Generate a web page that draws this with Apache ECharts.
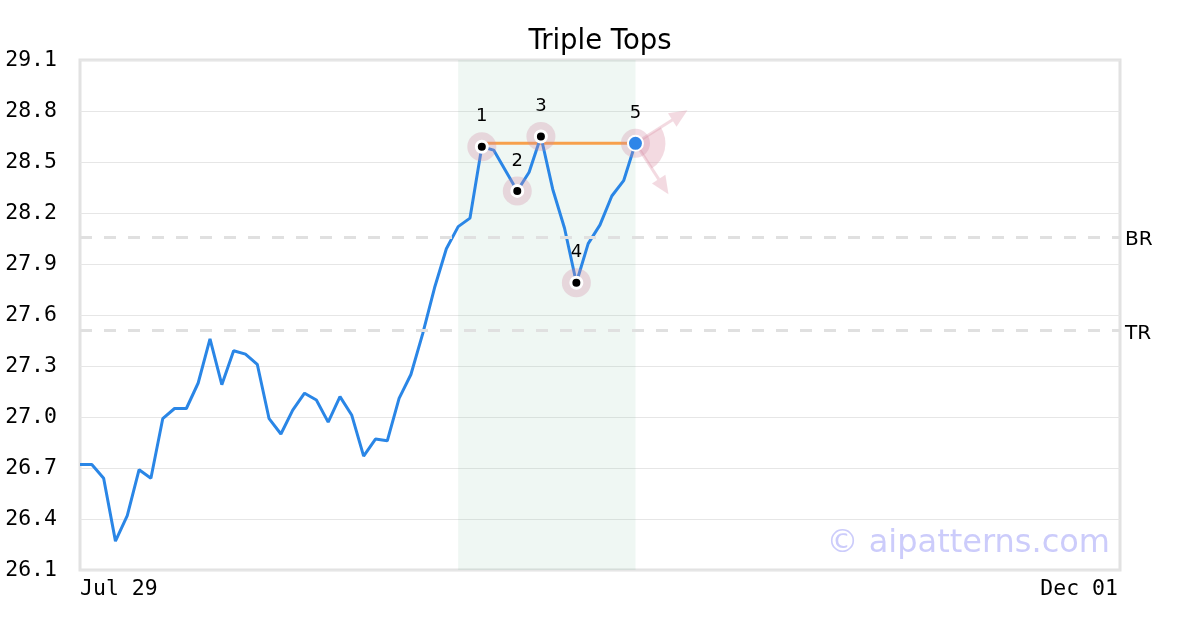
<!DOCTYPE html>
<html>
<head>
<meta charset="utf-8">
<script src="https://cdn.jsdelivr.net/npm/echarts@6/dist/echarts.min.js"></script>
<style>html,body{margin:0;padding:0;background:#fff;}#c{width:1200px;height:630px;}</style>
</head>
<body>
<div id="c"></div>
<script>
// ---- data ----
const categoryCount = 89;
const xTickLabels = ['Jul 29', 'Dec 01'];
const yTicks = [26.1, 26.4, 26.7, 27.0, 27.3, 27.6, 27.9, 28.2, 28.5, 28.8, 29.1];
const prices = [26.72, 26.72, 26.64, 26.27, 26.42, 26.69, 26.64, 26.99, 27.05, 27.05,
  27.20, 27.46, 27.19, 27.39, 27.37, 27.31, 26.99, 26.90, 27.04, 27.14,
  27.10, 26.97, 27.12, 27.01, 26.77, 26.87, 26.86, 27.11, 27.25, 27.49,
  27.76, 27.99, 28.12, 28.17, 28.59, 28.57, 28.45, 28.33, 28.44, 28.65,
  28.34, 28.11, 27.79, 28.02, 28.13, 28.30, 28.39, 28.61];
const pivotIdx = [34, 37, 39, 42];
const pivotVal = [28.59, 28.33, 28.65, 27.79];
const pivotNames = ['1', '2', '3', '4'];
const lastIdx = 47, lastVal = 28.61, lastName = '5';
const resistance = [[34, 28.61], [47, 28.61]];
const zoneRange = [32, 47];
const levelNames = ['BR', 'TR'];
const levelValues = [28.06, 27.51];

const categories = [];
for (let i = 0; i < categoryCount; i++) categories.push(String(i));
const tickIndex = [0, categoryCount - 1];

const chart = echarts.init(document.getElementById('c'), null, {renderer: 'canvas'});
const mono = 'DejaVu Sans Mono';
const sans = 'DejaVu Sans';
const halo = 'rgba(210,140,165,0.3)';

const option = {
  animation: false,
  backgroundColor: '#fff',
  title: {
    text: 'Triple Tops', left: 'center', top: 23,
    textStyle: {fontFamily: sans, fontSize: 27.5, fontWeight: 'normal', color: '#000'}
  },
  grid: {left: 80, right: 80, top: 60, bottom: 60, show: true, borderColor: '#e2e2e2', borderWidth: 3, backgroundColor: 'transparent'},
  xAxis: {
    type: 'category', data: categories, boundaryGap: false,
    axisLine: {show: false}, axisTick: {show: false}, splitLine: {show: false},
    axisLabel: {
      interval: (i) => tickIndex.indexOf(i) >= 0,
      formatter: (v, i) => { const k = tickIndex.indexOf(Number(v)); return k >= 0 ? xTickLabels[k] : ''; },
      alignMinLabel: 'left', alignMaxLabel: 'right',
      fontFamily: mono, fontSize: 21.5, color: '#000', margin: 8, padding: [0, 2, 0, 0]
    }
  },
  yAxis: {
    type: 'value', min: yTicks[0], max: yTicks[yTicks.length - 1], interval: 0.3,
    axisLine: {show: false}, axisTick: {show: false},
    splitLine: {lineStyle: {color: '#e6e6e6', width: 1}},
    axisLabel: {formatter: (v) => v.toFixed(1), fontFamily: mono, fontSize: 21.5, color: '#000', margin: 23}
  },
  graphic: [{
    type: 'text', right: 90, bottom: 70, z: 100,
    style: {text: '© aipatterns.com', fontFamily: sans, fontSize: 32, fill: '#ccccfb'}
  }],
  series: [
    {
      type: 'line', data: prices, symbol: 'none', z: 3,
      lineStyle: {color: '#2a86e6', width: 3}, itemStyle: {color: '#2a86e6'},
      markArea: {silent: true, itemStyle: {color: 'rgba(120,190,160,0.12)'},
        data: [[{xAxis: zoneRange[0]}, {xAxis: zoneRange[1]}]]},
      markLine: {
        silent: true, symbol: 'none',
        lineStyle: {color: '#e0e0e0', width: 3, type: [12, 12]},
        label: {position: 'end', formatter: (p) => p.name, fontFamily: sans, fontSize: 20, color: '#000', distance: 5, offset: [0, 3]},
        data: levelNames.map((n, i) => ({name: n, yAxis: levelValues[i]}))
      }
    },
    {
      type: 'line', data: resistance, symbol: 'none', z: 2,
      lineStyle: {color: '#f7a04b', width: 3}
    },
    {
      type: 'custom', z: 4, data: [[lastIdx, lastVal]],
      renderItem: function (params, api) {
        const c = api.coord([api.value(0), api.value(1)]);
        const col = 'rgba(220,150,170,0.35)';
        const tips = [[52, -33], [33, 51]];
        const children = [{
          type: 'sector',
          shape: {cx: c[0], cy: c[1], r0: 0, r: 30, startAngle: Math.atan2(-33, 52), endAngle: Math.atan2(51, 33), clockwise: true},
          style: {fill: col}
        }];
        tips.forEach(t => {
          const len = Math.hypot(t[0], t[1]);
          const ux = t[0] / len, uy = t[1] / len;
          const tx = c[0] + t[0], ty = c[1] + t[1];
          const bx = tx - ux * 18, by = ty - uy * 18;
          children.push({type: 'line', shape: {x1: c[0], y1: c[1], x2: bx, y2: by}, style: {stroke: col, lineWidth: 3}});
          children.push({type: 'polygon', shape: {points: [[tx, ty], [bx - uy * 8, by + ux * 8], [bx + uy * 8, by - ux * 8]]}, style: {fill: col}});
        });
        return {type: 'group', children: children};
      }
    },
    {
      type: 'scatter', z: 5, symbol: 'circle', symbolSize: 29,
      itemStyle: {color: halo, opacity: 1},
      data: pivotIdx.map((x, i) => [x, pivotVal[i]]).concat([[lastIdx, lastVal]])
    },
    {
      type: 'scatter', z: 6, symbol: 'circle', symbolSize: 11,
      itemStyle: {color: '#000', borderColor: '#fff', borderWidth: 3, opacity: 1},
      label: {show: true, position: 'inside', offset: [0, -30], formatter: (p) => pivotNames[p.dataIndex], fontFamily: sans, fontSize: 18, color: '#000'},
      data: pivotIdx.map((x, i) => [x, pivotVal[i]])
    },
    {
      type: 'scatter', z: 6, symbol: 'circle', symbolSize: 15,
      itemStyle: {color: '#2f86e8', borderColor: '#fff', borderWidth: 2, opacity: 1},
      label: {show: true, position: 'inside', offset: [0, -30], formatter: () => lastName, fontFamily: sans, fontSize: 18, color: '#000'},
      data: [[lastIdx, lastVal]]
    }
  ]
};
chart.setOption(option);
</script>
</body>
</html>
